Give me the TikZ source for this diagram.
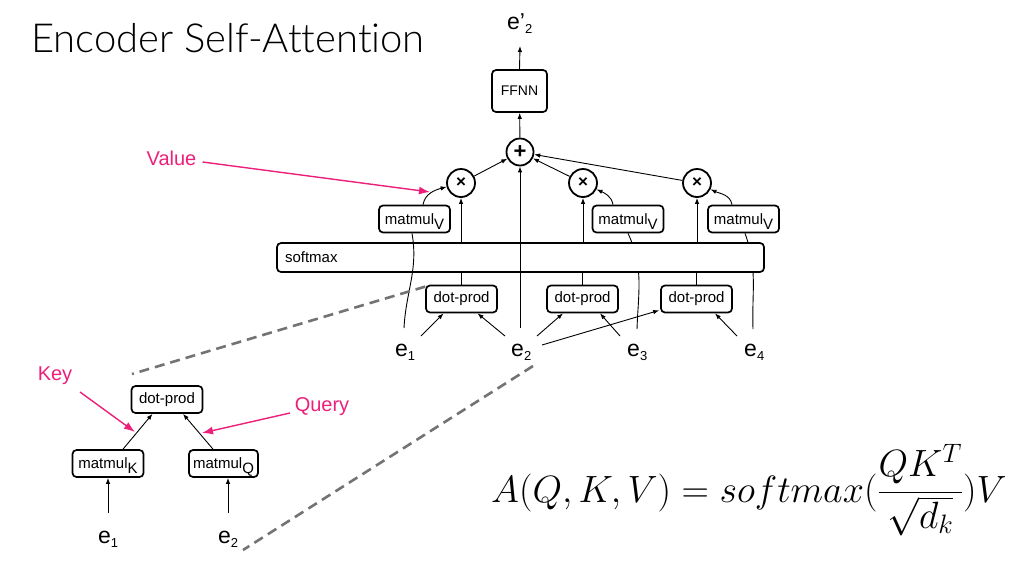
\RequirePackage{fix-cm}
\documentclass[tikz,border=0pt]{standalone}
\usepackage{amsmath}
\usepackage{fontspec}
\setmainfont{Liberation Sans}
\newfontfamily\titlefont{Lato}[UprightFont=* Light,Ligatures={NoCommon,NoRare}]
\usetikzlibrary{arrows.meta,backgrounds}
\definecolor{hotpink}{RGB}{236,32,122}
\definecolor{dashgray}{RGB}{115,115,115}
\newcommand\matsub[1]{matmul\raisebox{-5pt}[0pt][0pt]{#1}}
\newcommand\esub[1]{e\raisebox{-4pt}{\fontsize{13}{13}\selectfont #1}}
\begin{document}
\begin{tikzpicture}[x=1pt,y=1pt,
  box/.style={draw,line width=1.7pt,rounded corners=4pt,fill=white,inner sep=0pt,font=\fontsize{15}{15}\selectfont},
  dpbox/.style={box,minimum width=71pt,minimum height=27pt},
  mmbox/.style={box,minimum width=71pt,minimum height=27pt},
  op/.style={draw,circle,line width=1.8pt,minimum size=28pt,inner sep=0pt,fill=white},
  elab/.style={inner sep=0pt,anchor=base west,font=\fontsize{23}{23}\selectfont},
  arr/.style={line width=0.9pt,-{Latex[length=6pt,width=4.5pt]}},
  ln/.style={line width=0.9pt},
  pinkarr/.style={draw=hotpink,line width=1.4pt,-{Latex[length=11pt,width=8pt]}},
  pinklab/.style={text=hotpink,inner sep=0pt,font=\fontsize{20}{20}\selectfont},
  dashln/.style={draw=dashgray,line width=2.6pt,dash pattern=on 10pt off 6pt}
]
\useasboundingbox (0,0) rectangle (1024,-560);

% title
\node[inner sep=0pt,anchor=base west,font=\titlefont\fontsize{40}{40}\selectfont] (title) at (31,-52) {Encoder Self-Attention};

% main nodes
\node[box,minimum width=55pt,minimum height=42pt,font=\fontsize{14}{14}\selectfont] (ffnn) at (519.5,-91) {FFNN};
\node[op,minimum size=27pt] (plus) at (520,-152) {\fontsize{22}{22}\selectfont\bfseries +};
\node[op] (x1) at (461,-183) {\fontsize{17}{17}\selectfont\bfseries ×};
\node[op] (x2) at (583,-183) {\fontsize{17}{17}\selectfont\bfseries ×};
\node[op] (x3) at (697,-183) {\fontsize{17}{17}\selectfont\bfseries ×};
\node[mmbox] (m1) at (414.5,-219) {\matsub{V}};
\node[mmbox] (m2) at (628,-219) {\matsub{V}};
\node[mmbox] (m3) at (743.5,-219) {\matsub{V}};
\node[box,minimum height=29pt,inner xsep=8pt,text width=471pt,align=left] (soft) at (520.5,-257.5) {softmax};
\node[dpbox] (dp1) at (461.5,-299) {dot-prod};
\node[dpbox] (dp2) at (582.5,-299) {dot-prod};
\node[dpbox] (dp3) at (696.5,-299) {dot-prod};
\node[elab] (e1) at (395,-356) {\esub{1}};
\node[elab] (e2) at (511,-356) {\esub{2}};
\node[elab] (e3) at (627,-356) {\esub{3}};
\node[elab] (e4) at (744,-356) {\esub{4}};
\node[elab] (eout) at (507,-29) {e'\raisebox{-4pt}{\fontsize{13}{13}\selectfont 2}};

% inset nodes
\node[dpbox] (idp) at (167,-399.5) {dot-prod};
\node[mmbox] (mk) at (108,-463.5) {\matsub{K}};
\node[mmbox,minimum width=69pt] (mq) at (223.5,-463.5) {\matsub{Q}};
\node[elab] (ie1) at (98,-543) {\esub{1}};
\node[elab] (ie2) at (218,-543) {\esub{2}};

% pink labels
\node[pinklab] (value) at (171.5,-158) {Value};
\node[pinklab] (key) at (55,-376) {Key};
\node[pinklab] (query) at (322,-407) {Query};

% formula
\node[inner sep=0pt,anchor=base west,font=\fontsize{38}{38}\selectfont] (formula) at (491,-502)
  {$A(Q,K,V) = softmax(\dfrac{QK^T}{\sqrt{d_k}})V$};

% free-end coordinates
\coordinate (outtip) at (520,-46);
\coordinate (v1) at (404,-328);
\coordinate (v2) at (520,-328);
\coordinate (v3) at (637,-329);
\coordinate (v4) at (753,-329);
\coordinate (a1) at (421,-336);
\coordinate (a2) at (505,-336);
\coordinate (a3) at (537,-336);
\coordinate (a4) at (620,-336);
\coordinate (a5) at (542,-345);
\coordinate (a6) at (737,-336);
\coordinate (ib1) at (108,-513);
\coordinate (ib2) at (228,-513);
\coordinate (vtip) at (430,-192);
\coordinate (kstart) at (80,-392);
\coordinate (ktip) at (135,-432);
\coordinate (qstart) at (290,-413);
\coordinate (qtip) at (202,-433);
\coordinate (dA) at (132,-374);
\coordinate (dB1) at (533,-366);
\coordinate (dB2) at (243,-550);

% lines behind softmax
\begin{scope}[on background layer]
\draw[ln] (v3) to[out=88,in=-65] (m2.south);
\draw[ln] (v4) to[out=92,in=-70] ([xshift=1.5pt]m3.south);
\end{scope}

% connectors
\draw[arr] (ffnn.north) -- (outtip);
\draw[arr] (plus) -- (ffnn);
\draw[arr] (x1) -- (plus);
\draw[arr] (x2) -- (plus);
\draw[arr] (x3) -- (plus);
\draw[arr] (soft.north -| x1) -- (x1);
\draw[arr] (soft.north -| x2) -- (x2);
\draw[arr] (soft.north -| x3) -- (x3);
\draw[ln] (dp1) -- (soft.south -| dp1);
\draw[ln] (dp2) -- (soft.south -| dp2);
\draw[ln] (dp3) -- (soft.south -| dp3);
\draw[arr] ([xshift=8.5pt]m1.north) to[out=80,in=195] (x1);
\draw[arr] ([xshift=-15pt]m2.north) to[out=100,in=-25] (x2);
\draw[arr] ([xshift=-11.5pt]m3.north) to[out=100,in=-25] (x3);
\draw[ln] (v1) to[out=87,in=-80] ([xshift=-2.5pt]m1.south);
\draw[arr] (v2) -- (plus);

\draw[arr] (a1) -- ([xshift=-18pt]dp1.south);
\draw[arr] (a2) -- ([xshift=16pt]dp1.south);
\draw[arr] (a3) -- ([xshift=-19.5pt]dp2.south);
\draw[arr] (a4) -- ([xshift=17.5pt]dp2.south);
\draw[arr] (a5) -- ([shift={(-1pt,3pt)}]dp3.south west);
\draw[arr] (a6) -- ([xshift=18.5pt]dp3.south);

% inset connectors
\draw[arr] (ib1) -- (mk.south);
\draw[arr] (ib2) -- ([xshift=4.5pt]mq.south);
\draw[arr] ([xshift=15pt]mk.north) -- ([xshift=-14.5pt]idp.south);
\draw[arr] ([xshift=-10.5pt]mq.north) -- ([xshift=16pt]idp.south);

% pink arrows
\draw[pinkarr] ([shift={(6pt,-4pt)}]value.east) -- (vtip);
\draw[pinkarr] (kstart) -- (ktip);
\draw[pinkarr] (qstart) -- (qtip);

% dashed zoom lines
\draw[dashln] ([yshift=-2pt]dp1.north west) -- (dA);
\draw[dashln] (dB1) -- (dB2);
\end{tikzpicture}
\end{document}
